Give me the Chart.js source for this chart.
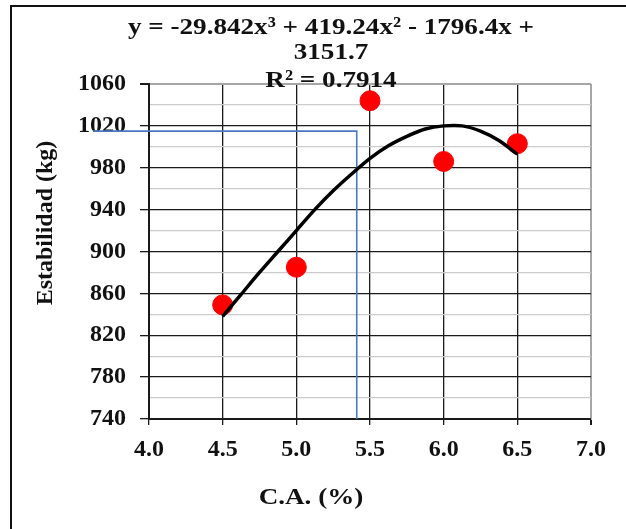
<!DOCTYPE html>
<html>
<head>
<meta charset="utf-8">
<script src="https://cdn.jsdelivr.net/npm/chart.js@4"></script>
<style>
  body { margin: 0; background: #fff; }
  canvas { display: block; }
</style>
</head>
<body>
<canvas id="myChart" width="626" height="529"></canvas>
<script>
// measured points
const CA = [4.5, 5.0, 5.5, 6.0, 6.5];
const ESTABILIDAD = [849, 885, 1044, 986, 1003];

// polynomial trendline
const TREND_X = [4.5, 4.625, 4.75, 4.875, 5.0, 5.125, 5.25, 5.375, 5.5, 5.625, 5.75, 5.875, 6.0, 6.125, 6.25, 6.375, 6.5];
const TREND_Y = [838, 859, 880, 900, 920, 940, 958, 974, 989, 1001, 1010, 1017, 1020, 1020, 1015, 1006, 993];

// blue guide line (read-off of the optimum)
const GUIDE_X = [3.62, 5.41, 5.41];
const GUIDE_Y = [1015, 1015, 740];

const X_MIN = 4.0, X_MAX = 7.0, X_STEP = 0.5;
const Y_MIN = 740, Y_MAX = 1060, Y_STEP = 20, Y_LABEL_STEP = 40;

const EQUATION = ['y = -29.842x³ + 419.24x² - 1796.4x +', '3151.7', 'R² = 0.7914'];
const Y_TITLE = 'Estabilidad (kg)';
const X_TITLE = 'C.A. (%)';

const SERIF = "'Liberation Serif', 'Times New Roman', serif";
const DARK = '#1a1a1a';
const MINOR = '#cccccc';
const BORDER = '#a6a6a6';

const toPts = (xs, ys) => xs.map((x, i) => ({x: x, y: ys[i]}));

// text drawn a little wide, like the original
function wideText(ctx, text, cx, cy, sx) {
    ctx.save();
    ctx.translate(cx, cy);
    ctx.scale(sx, 1);
    ctx.fillText(text, 0, 0);
    ctx.restore();
}

// frame of the figure + equation + axis titles
const decor = {
    id: 'decor',
    beforeDraw(chart) {
        const ctx = chart.ctx;
        ctx.save();
        ctx.strokeStyle = '#111';
        ctx.lineWidth = 2;
        ctx.beginPath();
        ctx.moveTo(626, 6);
        ctx.lineTo(11, 6);
        ctx.lineTo(11, 529);
        ctx.stroke();
        ctx.restore();
    },
    afterDraw(chart) {
        const ctx = chart.ctx;
        ctx.save();
        ctx.fillStyle = '#111';
        ctx.font = 'bold 24px ' + SERIF;
        ctx.textAlign = 'center';
        ctx.textBaseline = 'middle';
        const lineY = [28, 53, 81];
        EQUATION.forEach((t, i) => wideText(ctx, t, 331, lineY[i], 1.13));

        wideText(ctx, X_TITLE, 311, 498, 1.13);

        ctx.translate(46, 223);
        ctx.rotate(-Math.PI / 2);
        ctx.fillText(Y_TITLE, 0, 0);
        ctx.restore();
    }
};

const ctx = document.getElementById('myChart').getContext('2d');
const chart = new Chart(ctx, {
    type: 'scatter',
    data: {
        datasets: [
            {
                label: 'Polinómica',
                data: toPts(TREND_X, TREND_Y),
                showLine: true,
                borderColor: '#000',
                borderWidth: 3.5,
                pointRadius: 0,
                tension: 0.3,
                order: 0
            },
            {
                label: 'Estabilidad',
                data: toPts(CA, ESTABILIDAD),
                backgroundColor: '#ff0000',
                borderColor: '#ff0000',
                pointRadius: 10,
                pointHoverRadius: 10,
                order: 1
            },
            {
                label: 'guía',
                data: toPts(GUIDE_X, GUIDE_Y),
                showLine: true,
                borderColor: '#4a78c0',
                borderWidth: 1.6,
                pointRadius: 0,
                tension: 0,
                clip: false,
                order: 2
            }
        ]
    },
    options: {
        responsive: false,
        animation: false,
        layout: { padding: { top: 84, right: 35, left: 0, bottom: 0 } },
        plugins: {
            legend: { display: false },
            tooltip: { enabled: false }
        },
        scales: {
            x: {
                type: 'linear',
                min: X_MIN,
                max: X_MAX,
                afterFit: s => { s.height = 110; },
                border: { color: DARK, width: 2 },
                grid: {
                    color: c => c.tick && c.tick.value === X_MAX ? BORDER : DARK,
                    lineWidth: c => c.tick && c.tick.value === X_MAX ? 2 : 1.3,
                    tickColor: DARK,
                    tickLength: 6
                },
                ticks: {
                    stepSize: X_STEP,
                    padding: 10,
                    color: '#111',
                    font: { family: SERIF, size: 24, weight: 'bold' },
                    callback: v => Number(v).toFixed(1)
                }
            },
            y: {
                min: Y_MIN,
                max: Y_MAX,
                afterFit: s => { s.width = 149; },
                border: { color: DARK, width: 2 },
                grid: {
                    color: c => {
                        const v = c.tick ? c.tick.value : 0;
                        if (v === Y_MAX) return BORDER;
                        return (v - Y_MIN) % Y_LABEL_STEP === 0 ? DARK : MINOR;
                    },
                    lineWidth: c => c.tick && c.tick.value === Y_MAX ? 2 : 1.3,
                    tickColor: c => {
                        const v = c.tick ? c.tick.value : 0;
                        return (v - Y_MIN) % Y_LABEL_STEP === 0 ? DARK : 'rgba(0,0,0,0)';
                    },
                    tickLength: 9
                },
                ticks: {
                    stepSize: Y_STEP,
                    autoSkip: false,
                    padding: 14,
                    color: '#111',
                    font: { family: SERIF, size: 24, weight: 'bold' },
                    callback: v => (v - Y_MIN) % Y_LABEL_STEP === 0 ? v : ''
                }
            }
        }
    },
    plugins: [decor]
});
</script>
</body>
</html>
